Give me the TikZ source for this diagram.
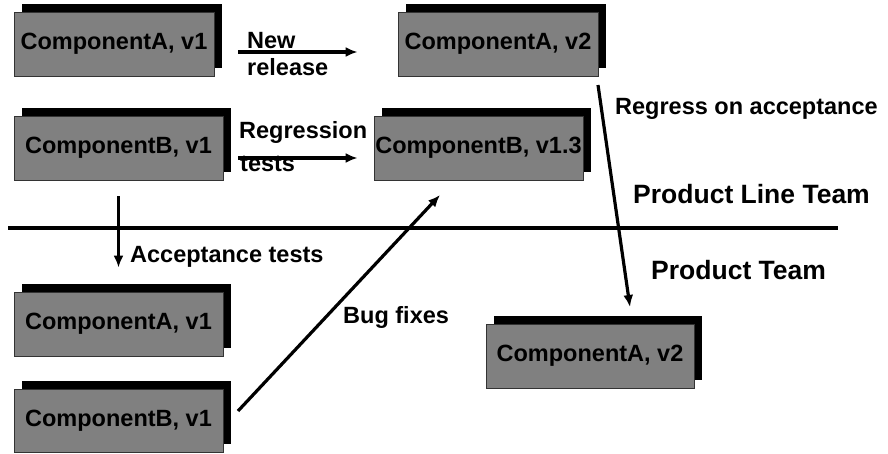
\documentclass[tikz,border=0pt]{standalone}
\usepackage{fontspec}
\setmainfont{Liberation Sans}
\usetikzlibrary{arrows.meta,shadows}
\tikzset{
  compbox/.style={rectangle, fill=boxgray, draw=black!80, line width=0.8pt,
    inner sep=0pt, minimum height=64pt, minimum width=209pt,
    font=\fontsize{23.5}{28}\selectfont\bfseries,
    general shadow={fill=black, shadow xshift=8pt, shadow yshift=8pt}},
  narrowbox/.style={compbox, minimum width=200pt},
  lbl/.style={anchor=base west, inner sep=0pt, font=\fontsize{23.5}{28}\selectfont\bfseries},
  teamlbl/.style={lbl, font=\fontsize{26.5}{32}\selectfont\bfseries},
  arr/.style={line width=3.2pt, -{Latex[length=12pt,width=10pt]}},
  rule/.style={line width=3.2pt}
}
\definecolor{boxgray}{RGB}{128,128,128}
\begin{document}
\begin{tikzpicture}[x=1pt,y=-1pt]
  \useasboundingbox (0,0) rectangle (888,453);

  % product line team components
  \node[narrowbox] (a1) at (114,44) {ComponentA, v1};
  \node[narrowbox] (a2) at (498,44) {ComponentA, v2};
  \node[compbox] (b1) at (118.5,148) {ComponentB, v1};
  \node[compbox] (b13) at (478.5,148) {ComponentB, v1.3};

  % product team components
  \node[compbox] (a1p) at (118.5,324) {ComponentA, v1};
  \node[compbox, minimum height=63pt] (b1p) at (118.5,420.5) {ComponentB, v1};
  \node[compbox, minimum width=208pt] (a2p) at (590,356) {ComponentA, v2};

  % team boundary
  \coordinate (ruleL) at (8,228);
  \coordinate (ruleR) at (838,228);
  \draw[rule] (ruleL) -- (ruleR);

  % flows between components
  \draw[arr, shorten <=24pt, shorten >=40pt] ([yshift=-8pt]a1.east) -- ([yshift=-8pt]a2.west);
  \draw[arr, shorten <=15pt, shorten >=16pt] ([yshift=-10pt]b1.east) -- ([yshift=-10pt]b13.west);
  \draw[arr, shorten <=16pt, shorten >=24pt] (b1.south) -- (a1p.north);
  \coordinate (bugS) at (238,411);
  \coordinate (bugE) at (440,195);
  \draw[arr] (bugS) -- (bugE);
  \coordinate (regS) at (598,85);
  \coordinate (regE) at (630,307);
  \draw[arr] (regS) -- (regE);

  % labels
  \node[lbl] (newlbl) at (247,48) {New};
  \node[lbl] (rellbl) at (247,75) {release};
  \node[lbl] (reglbl) at (239,138) {Regression};
  \node[lbl] (tstlbl) at (240,171) {tests};
  \node[lbl] (acclbl) at (130,262) {Acceptance tests};
  \node[lbl] (buglbl) at (343,323) {Bug fixes};
  \node[lbl] (roalbl) at (615,114) {Regress on acceptance};
  \node[teamlbl] (pltlbl) at (633,203) {Product Line Team};
  \node[teamlbl] (ptlbl) at (651,279) {Product Team};
\end{tikzpicture}
\end{document}
